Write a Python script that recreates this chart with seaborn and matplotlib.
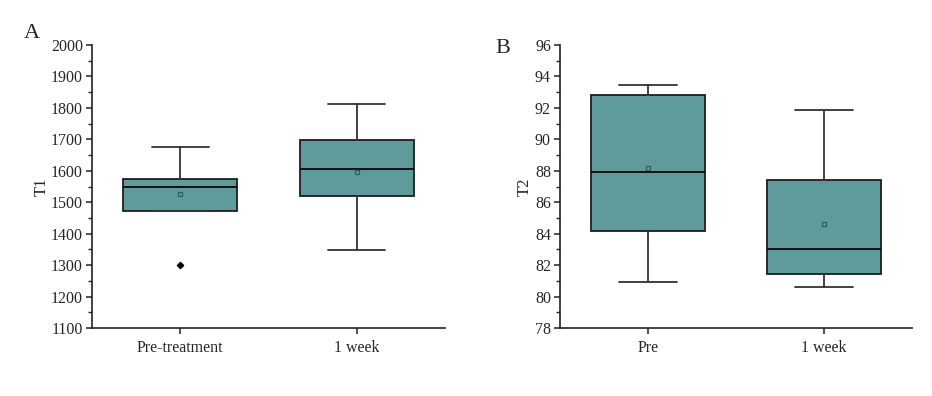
import matplotlib
matplotlib.use("Agg")
import matplotlib.pyplot as plt
from matplotlib.ticker import MultipleLocator
import seaborn as sns

# ---- data ----
t1_labels = ["Pre-treatment", "1 week"]
t1_whislo = [1473, 1347]
t1_q1 = [1473, 1521]
t1_med = [1548, 1606]
t1_q3 = [1574, 1698]
t1_whishi = [1677, 1813]
t1_mean = [1527, 1597]
t1_fliers = [[1301], []]

t2_labels = ["Pre", "1 week"]
t2_whislo = [80.93, 80.61]
t2_q1 = [84.2, 81.44]
t2_med = [87.9, 83.05]
t2_q3 = [92.79, 87.43]
t2_whishi = [93.45, 91.86]
t2_mean = [88.2, 84.61]
t2_fliers = [[], []]

sns.set_style("ticks")
plt.rcParams["font.family"] = ["Liberation Serif", "DejaVu Serif"]

FILL = "#5F9B9B"
EDGE = "#1e1e1e"


def make_stats(labels, lo, q1, med, q3, hi, mean, fliers):
    out = []
    for i in range(len(labels)):
        out.append(dict(label=labels[i], whislo=lo[i], q1=q1[i], med=med[i],
                        q3=q3[i], whishi=hi[i], mean=mean[i], fliers=fliers[i]))
    return out


def draw(ax, stats, ylim, major, minor, ylabel, lpad):
    ax.bxp(stats, positions=range(len(stats)), widths=0.645, patch_artist=True,
           showmeans=True, showfliers=True,
           boxprops=dict(facecolor=FILL, edgecolor=EDGE, linewidth=1.3),
           medianprops=dict(color="#111111", linewidth=1.4),
           whiskerprops=dict(color="#333333", linewidth=1.3),
           capprops=dict(color="#333333", linewidth=1.3),
           capwidths=0.325,
           meanprops=dict(marker="s", markersize=3.5, markerfacecolor="none",
                          markeredgecolor="#2f5f60", markeredgewidth=0.9),
           flierprops=dict(marker="D", markersize=3.2, markerfacecolor="black",
                           markeredgecolor="black"))
    ax.set_xlim(-0.5, 1.5)
    ax.set_ylim(*ylim)
    ax.yaxis.set_major_locator(MultipleLocator(major))
    ax.yaxis.set_minor_locator(MultipleLocator(minor))
    ax.set_xticks(range(len(stats)))
    ax.set_xticklabels([s["label"] for s in stats])
    ax.tick_params(axis="both", which="major", direction="out", length=4.5,
                   width=1.1, labelsize=11.5, color="#222222", pad=2)
    ax.tick_params(axis="x", which="major", pad=4)
    ax.tick_params(axis="y", which="minor", direction="out", length=2.8,
                   width=1.0, color="#222222")
    sns.despine(ax=ax)
    for s in ["left", "bottom"]:
        ax.spines[s].set_linewidth(1.2)
        ax.spines[s].set_color("#222222")
    ax.set_ylabel(ylabel, fontsize=12, labelpad=lpad)


fig = plt.figure(figsize=(9.32, 3.96), dpi=100)
axA = fig.add_axes([92 / 932, 1 - 328 / 396, 353 / 932, 283 / 396])
axB = fig.add_axes([560 / 932, 1 - 328 / 396, 352 / 932, 283 / 396])

draw(axA, make_stats(t1_labels, t1_whislo, t1_q1, t1_med, t1_q3, t1_whishi,
                     t1_mean, t1_fliers), (1100, 2000), 100, 50, "T1", 0.8)
draw(axB, make_stats(t2_labels, t2_whislo, t2_q1, t2_med, t2_q3, t2_whishi,
                     t2_mean, t2_fliers), (78, 96), 2, 1, "T2", 1.5)

fig.text(24 / 932, 1 - 24 / 396, "A", fontsize=16, ha="left", va="top")
fig.text(495 / 932, 1 - 39 / 396, "B", fontsize=16, ha="left", va="top")

fig.savefig("out.png", dpi=100)
